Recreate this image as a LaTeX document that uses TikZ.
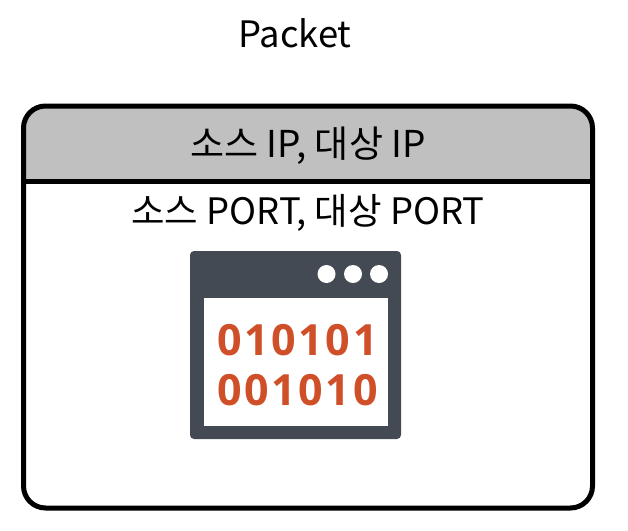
\documentclass[tikz,border=0pt]{standalone}
\usepackage{fontspec}
\setmainfont{Noto Sans CJK KR}
\newfontfamily\digitfont[LetterSpace=6]{Open Sans Bold}
\definecolor{hdrgray}{HTML}{C0C0C0}
\definecolor{slate}{HTML}{434A54}
\definecolor{rust}{HTML}{CF4F28}
\tikzset{
  txt/.style={inner sep=0pt,font=\fontsize{36.4}{36.4}\selectfont,text=black,anchor=base},
  txtb/.style={inner sep=0pt,font=\fontsize{37}{37}\selectfont,text=black,anchor=base},
  bits/.style={inner sep=0pt,font=\digitfont\fontsize{43}{43}\selectfont,text=rust,anchor=base},
  dot/.style={circle,fill=white,draw=none,minimum size=18pt,inner sep=0pt},
  panel/.style={line width=5pt,draw=black},
}
\begin{document}
\begin{tikzpicture}[x=1pt,y=-1pt]
\useasboundingbox (0,0) rectangle (628,530);
% header fill
\begin{scope}
\clip (0,0) rectangle (628,181);
\fill[hdrgray,rounded corners=22pt] (23.5,106) rectangle (592.5,508);
\end{scope}
\draw[panel,rounded corners=22pt] (23.5,106) rectangle (592.5,508);
\coordinate (dl) at (23.5,181);
\coordinate (dr) at (592.5,181);
\draw[panel] (dl) -- (dr);
\node[txt] (title) at (295,47) {Packet};
\node[txtb] (ip) at (308,157) {소스 IP, 대상 IP};
\node[txt] (port) at (308,224) {소스 PORT, 대상 PORT};
% icon
\fill[slate,rounded corners=4pt] (190,251) rectangle (401,439);
\fill[white] (203.5,298) rectangle (388,425.5);
\node[dot] (d1) at (326.5,274) {};
\node[dot] (d2) at (353,274) {};
\node[dot] (d3) at (379,274) {};
\node[bits] (b1) at (297.5,355) {010101};
\node[bits] (b2) at (297.5,405) {001010};
\end{tikzpicture}
\end{document}
